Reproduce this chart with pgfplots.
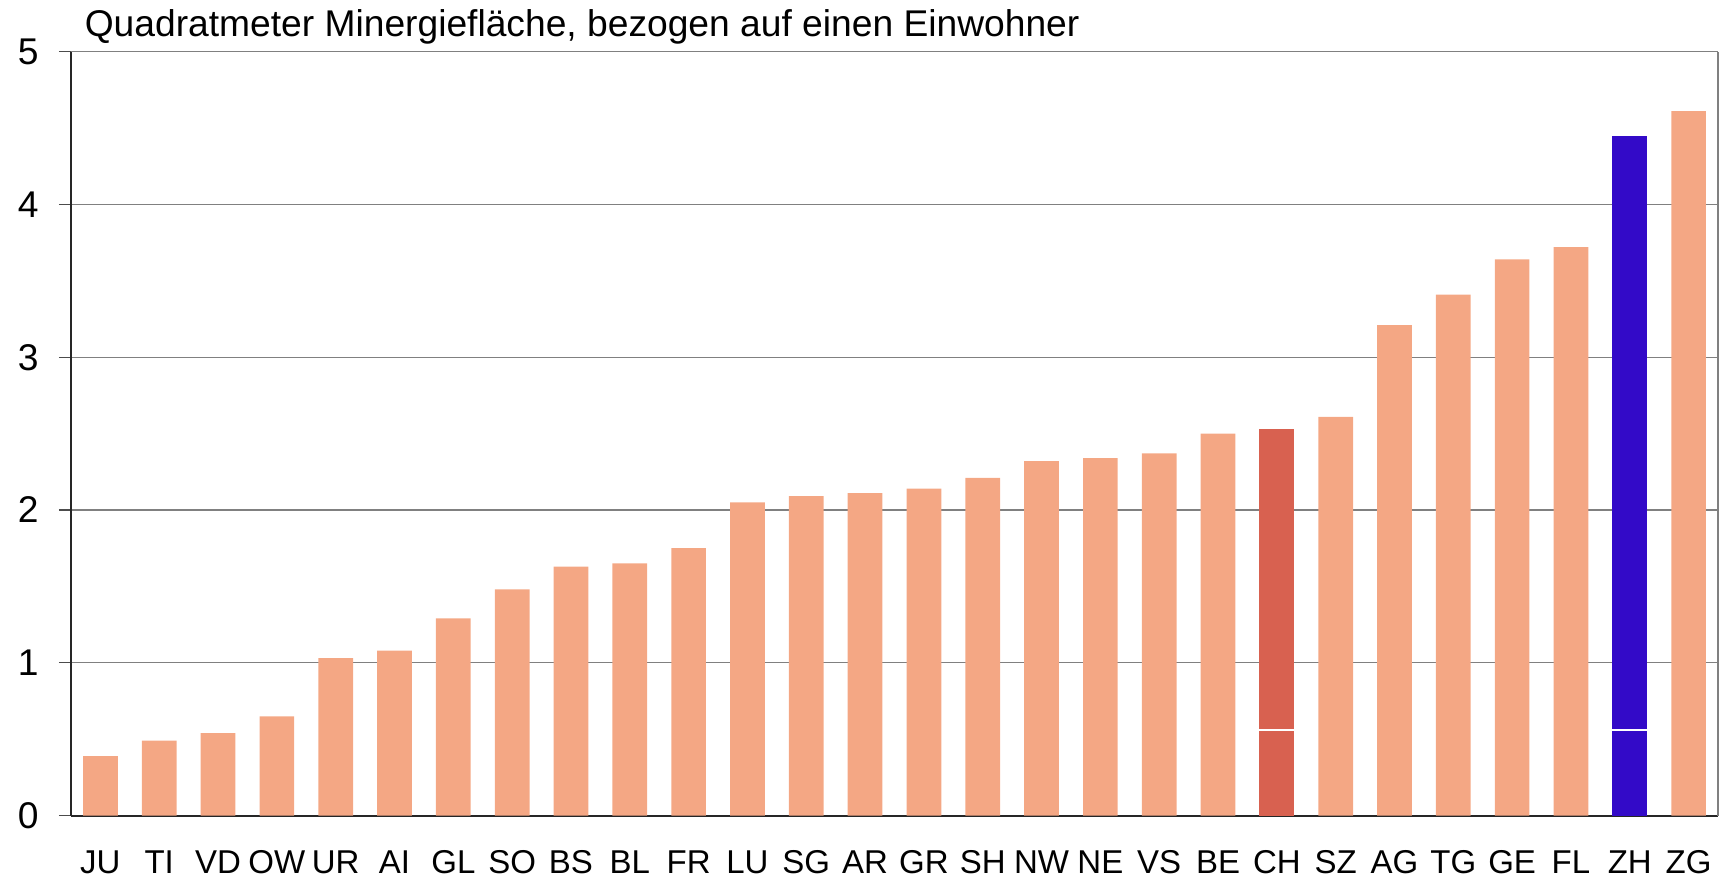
\documentclass[border=0pt]{standalone}
\usepackage{fontspec}
\setmainfont{Liberation Sans}
\usepackage{pgfplots}
\pgfplotsset{compat=1.18}

\definecolor{salmon}{HTML}{F4A784}
\definecolor{chred}{HTML}{D86150}
\definecolor{zhblue}{HTML}{330AC8}
\newcommand{\fs}{\fontsize{18.6}{22}\selectfont}
\newcommand{\ts}{\fontsize{16.5}{20}\selectfont}

\begin{document}
\begin{tikzpicture}
\begin{axis}[
    scale only axis,
    width=823.5pt, height=382pt,
    xmin=-0.5, xmax=27.5,
    ymin=0, ymax=5,
    axis lines=left,
    axis line style={-, black!85, line width=1pt},
    ytick={0,1,2,3,4,5},
    xtick={0,...,27},
    xticklabels={JU,TI,VD,OW,UR,AI,GL,SO,BS,BL,FR,LU,SG,AR,GR,SH,NW,NE,VS,BE,CH,SZ,AG,TG,GE,FL,ZH,ZG},
    xtick style={draw=none},
    tick align=outside,
    major tick length=6pt,
    ytick style={black!70, line width=0.6pt},
    ymajorgrids,
    grid style={gray, line width=0.6pt},
    extra x ticks={27.5},
    extra x tick labels={},
    extra x tick style={grid=major, major grid style={gray, line width=0.8pt}},
    xticklabel style={font=\ts},
    yticklabel style={font=\fs},
    /pgf/number format/assume math mode=true,
    yticklabel style={anchor=east, inner sep=0pt, xshift=-10pt},
    xticklabel style={anchor=base, inner sep=0pt, yshift=-23pt},
    clip=false,
]
% salmon bars (all cantons except CH and ZH)
\addplot[ybar, bar width=0.59, bar shift=0pt, fill=salmon, draw=none] coordinates {
(0,0.39) (1,0.49) (2,0.54) (3,0.65) (4,1.03) (5,1.08) (6,1.29) (7,1.48)
(8,1.63) (9,1.65) (10,1.75) (11,2.05) (12,2.09) (13,2.11) (14,2.14)
(15,2.21) (16,2.32) (17,2.34) (18,2.37) (19,2.50) (21,2.61) (22,3.21)
(23,3.41) (24,3.64) (25,3.72) (27,4.61)};
% CH
\addplot[ybar, bar width=0.59, bar shift=0pt, fill=chred, draw=none] coordinates {(20,2.53)};
% ZH
\addplot[ybar, bar width=0.59, bar shift=0pt, fill=zhblue, draw=none] coordinates {(26,4.45)};
% white dividers
\addplot[white, line width=0.6pt] coordinates {(19.705,0.56) (20.295,0.56)};
\addplot[white, line width=0.6pt] coordinates {(25.705,0.56) (26.295,0.56)};
\node[anchor=base west, font=\fs, inner sep=0pt, xshift=6.7pt, yshift=7.6pt]
  at (rel axis cs:0,1) {Quadratmeter Minergiefläche, bezogen auf einen Einwohner};
\end{axis}
\pgfresetboundingbox
\useasboundingbox (-35.5pt,-31.2pt) rectangle (824pt,407.8pt);
\end{tikzpicture}
\end{document}
